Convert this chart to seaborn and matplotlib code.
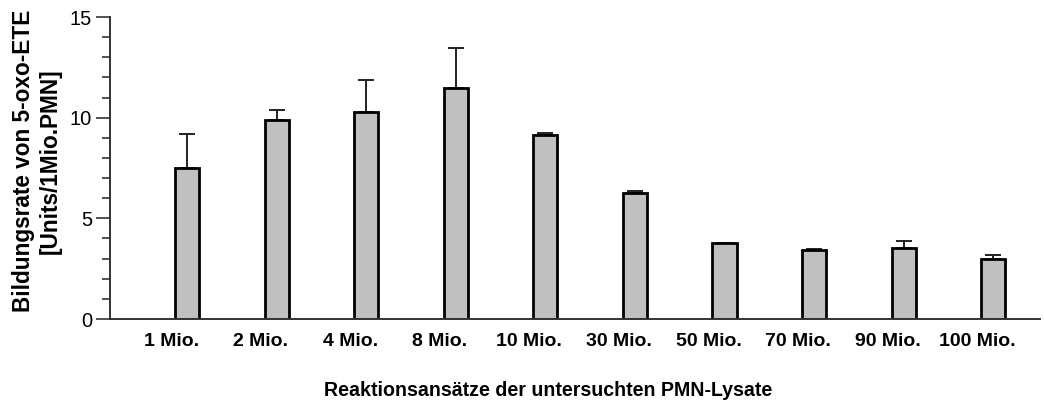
import matplotlib
matplotlib.use("Agg")
import matplotlib.pyplot as plt
import matplotlib.transforms as mtransforms
from matplotlib.ticker import MultipleLocator
import numpy as np
import pandas as pd
import seaborn as sns

# values
categories = ["1 Mio.", "2 Mio.", "4 Mio.", "8 Mio.", "10 Mio.",
              "30 Mio.", "50 Mio.", "70 Mio.", "90 Mio.", "100 Mio."]
means = [7.52, 9.89, 10.28, 11.49, 9.14, 6.26, 3.76, 3.44, 3.54, 3.00]
errors = [1.65, 0.49, 1.61, 1.99, 0.09, 0.10, 0.03, 0.02, 0.35, 0.16]

df = pd.DataFrame({"ansatz": categories, "rate": means})

sns.set_style("white")
plt.rcParams["font.family"] = ["Liberation Sans", "DejaVu Sans"]
plt.rcParams["text.color"] = "black"
plt.rcParams["xtick.color"] = "black"
plt.rcParams["ytick.color"] = "black"

fig = plt.figure(figsize=(10.44, 4.03), dpi=100)
ax = fig.add_axes([0.1054, 0.2084, 0.8906, 0.7494])

x = np.arange(len(categories))
# upward-only error bars, drawn below the bars
ax.errorbar(x, means, yerr=[np.zeros(len(errors)), errors], fmt="none",
            ecolor="#222222", elinewidth=1.4, capsize=6, capthick=1.4, zorder=1)

sns.barplot(data=df, x="ansatz", y="rate", color="#c0c0c0", saturation=1,
            edgecolor="black", linewidth=2, width=0.27, ax=ax, zorder=2)

ax.set_xlim(-0.86, 9.52)
ax.set_ylim(0, 15)
ax.yaxis.set_major_locator(MultipleLocator(5))
ax.yaxis.set_minor_locator(MultipleLocator(1))
ax.tick_params(axis="y", which="major", length=10, width=1.2, color="#333333",
               labelsize=14.5, labelcolor="black", pad=3, left=True)
ax.tick_params(axis="y", which="minor", length=6, width=1.2, color="#333333", left=True)
ax.tick_params(axis="x", length=0, pad=10, labelsize=14, labelcolor="black")
for lbl in ax.get_xticklabels():
    lbl.set_fontweight("bold")
    lbl.set_transform(lbl.get_transform() +
                      mtransforms.ScaledTranslation(-16 / 100, 0, fig.dpi_scale_trans))

for side in ["top", "right"]:
    ax.spines[side].set_visible(False)
for side in ["left", "bottom"]:
    ax.spines[side].set_color("#333333")
    ax.spines[side].set_linewidth(1.4)

ax.set_ylabel("")
ax.set_xlabel("Reaktionsansätze der untersuchten PMN-Lysate",
              fontsize=14.1, fontweight="bold", color="black")
ax.xaxis.set_label_coords(0.471, -0.205)
ax.xaxis.label.set_verticalalignment("top")

fig.text(37 / 1044, 1 - 161 / 403, "Bildungsrate von 5-oxo-ETE\n[Units/1Mio.PMN]",
         rotation=90, ha="center", va="center", fontsize=16.3, fontweight="bold",
         linespacing=1.2, color="black")

fig.savefig("out.png", dpi=100)
